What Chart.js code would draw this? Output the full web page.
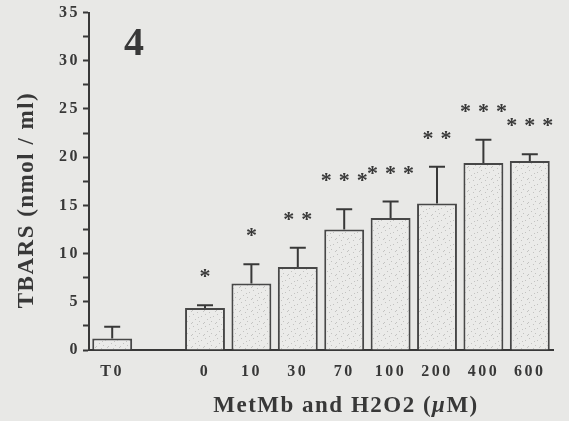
<!DOCTYPE html>
<html>
<head>
<meta charset="utf-8">
<script src="https://cdn.jsdelivr.net/npm/chart.js@4"></script>
<style>
  html, body { margin: 0; padding: 0; background: #e8e8e6; }
  #wrap { width: 569px; height: 421px; position: relative; }
</style>
</head>
<body>
<div id="wrap"><canvas id="c" width="569" height="421"></canvas></div>
<script>
// ---- data ----
const categories = ['T0', '', '0', '10', '30', '70', '100', '200', '400', '600'];
const tbarsMean = [1.2, null, 4.35, 6.9, 8.6, 12.5, 13.7, 15.2, 19.4, 19.6];
const tbarsErr  = [1.2, null, 0.3, 2.0, 2.0, 2.1, 1.7, 3.8, 2.4, 0.7];
const significance = ['', '', '*', '*', '**', '***', '***', '**', '***', '***'];
const yMin = 0, yMax = 35, yMajorStep = 5, yMinorStep = 2.5;
const panelLabel = '4';
const yTitle = 'TBARS (nmol / ml)';
const xTitleParts = [['MetMb and H2O2 (', false], ['\u03BC', true], ['M)', false]];

const INK = '#383838';
const SERIF = '"Liberation Serif", "DejaVu Serif", serif';

function makeStipple() {
  const c = document.createElement('canvas');
  c.width = 12; c.height = 12;
  const g = c.getContext('2d');
  g.fillStyle = '#ebebe9';
  g.fillRect(0, 0, 12, 12);
  g.fillStyle = 'rgba(120,120,120,0.35)';
  [[1,2],[5,0],[9,4],[3,7],[7,9],[11,11],[0,10],[6,5]].forEach(p => g.fillRect(p[0], p[1], 1, 1));
  return g.createPattern(c, 'repeat');
}

const spacingPlugin = {
  id: 'spacing',
  beforeLayout(chart) { chart.ctx.letterSpacing = '2.5px'; },
  beforeDraw(chart) { chart.ctx.letterSpacing = '2.5px'; }
};

const extrasPlugin = {
  id: 'extras',
  afterDatasetsDraw(chart) {
    const ctx = chart.ctx;
    const meta = chart.getDatasetMeta(0);
    const y = chart.scales.y;
    ctx.save();
    ctx.letterSpacing = '0px';
    ctx.strokeStyle = INK;
    ctx.lineWidth = 2;
    ctx.fillStyle = INK;
    meta.data.forEach((bar, i) => {
      const v = tbarsMean[i];
      if (v == null) return;
      const top = y.getPixelForValue(v);
      const errTop = y.getPixelForValue(v + tbarsErr[i]);
      const cx = bar.x;
      ctx.beginPath();
      ctx.moveTo(cx, top);
      ctx.lineTo(cx, errTop);
      ctx.moveTo(cx - 8, errTop);
      ctx.lineTo(cx + 8, errTop);
      ctx.stroke();
      const n = significance[i].length;
      if (n) {
        ctx.font = 'bold 22px ' + SERIF;
        ctx.textAlign = 'center';
        ctx.textBaseline = 'alphabetic';
        const sp = 18;
        for (let k = 0; k < n; k++) {
          const sx = cx + (k - (n - 1) / 2) * sp;
          ctx.fillText('*', sx, errTop - 22);
        }
      }
    });
    ctx.restore();
  },
  afterDraw(chart) {
    const ctx = chart.ctx;
    ctx.save();
    ctx.fillStyle = INK;
    ctx.textAlign = 'center';
    ctx.textBaseline = 'middle';
    ctx.letterSpacing = '0px';
    ctx.font = 'bold 40px ' + SERIF;
    ctx.fillText(panelLabel, 134, 45);
    ctx.letterSpacing = '1.5px';
    // x title with italic mu
    const fonts = [ 'bold 23px ' + SERIF, 'italic bold 23px ' + SERIF ];
    let total = 0;
    const widths = xTitleParts.map(p => { ctx.font = fonts[p[1] ? 1 : 0]; const w = ctx.measureText(p[0]).width; total += w; return w; });
    let x = 346 - total / 2;
    ctx.textAlign = 'left';
    xTitleParts.forEach((p, i) => { ctx.font = fonts[p[1] ? 1 : 0]; ctx.fillText(p[0], x, 406); x += widths[i]; });
    ctx.textAlign = 'center';
    ctx.font = fonts[0];
    ctx.translate(27, 200);
    ctx.rotate(-Math.PI / 2);
    ctx.fillText(yTitle, 0, 0);
    ctx.restore();
  }
};

new Chart(document.getElementById('c'), {
  type: 'bar',
  data: {
    labels: categories,
    datasets: [{
      data: tbarsMean,
      backgroundColor: makeStipple(),
      borderColor: '#474747',
      borderWidth: 2,
      borderSkipped: 'bottom',
      barPercentage: 0.86,
      categoryPercentage: 1.0
    }]
  },
  options: {
    responsive: false,
    animation: false,
    events: [],
    layout: { padding: { top: 12, right: 16, bottom: 0, left: 0 } },
    plugins: { legend: { display: false }, tooltip: { enabled: false }, title: { display: false } },
    scales: {
      x: {
        grid: { display: false, drawTicks: false },
        border: { display: true, color: INK, width: 2 },
        ticks: {
          color: INK,
          font: { family: SERIF, size: 16, weight: 'bold' },
          padding: 12,
          maxRotation: 0,
          autoSkip: false
        },
        afterFit(scale) { scale.height = 71; }
      },
      y: {
        min: yMin,
        max: yMax,
        grid: { display: true, drawTicks: true, drawOnChartArea: false, tickLength: 6, tickColor: INK, tickWidth: 2 },
        border: { display: true, color: INK, width: 2 },
        ticks: {
          stepSize: yMinorStep,
          color: INK,
          font: { family: SERIF, size: 16, weight: 'bold' },
          padding: 3,
          callback(v) { return (v % yMajorStep === 0) ? String(v) : ''; }
        },
        afterFit(scale) { scale.width = 89; }
      }
    }
  },
  plugins: [spacingPlugin, extrasPlugin]
});
</script>
</body>
</html>
